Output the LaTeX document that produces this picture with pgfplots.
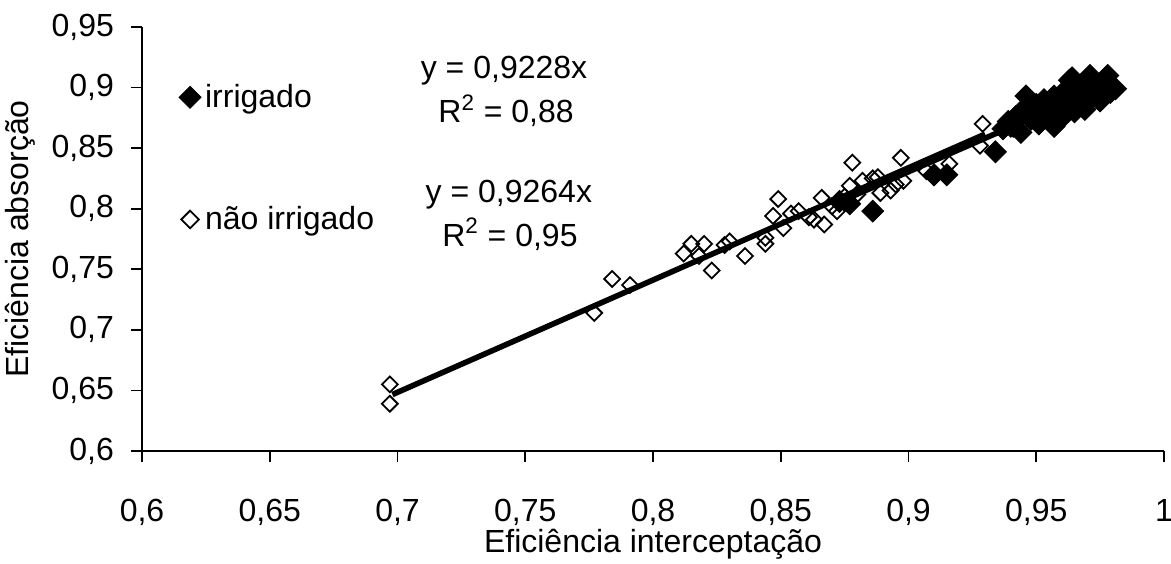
\documentclass[border=0pt]{standalone}
\usepackage{fontspec}
\setmainfont{Liberation Sans}
\usepackage{pgfplots}
\pgfplotsset{compat=1.18}

\newcommand{\bigf}{\fontsize{16}{19}\selectfont}
\pgfplotsset{
  legfilled/.style={legend image code/.code={\draw[##1] plot coordinates {(0.2cm,0cm)};}},
  legopen/.style={legend image code/.code={\draw[##1, mark size=3.1pt] plot coordinates {(0.2cm,0cm)};}},
}

\begin{document}
\begin{tikzpicture}
\begin{axis}[
  at={(71pt,56pt)}, anchor=south west,
  scale only axis, width=511pt, height=212pt,
  xmin=0.6, xmax=1, ymin=0.6, ymax=0.95,
  axis x line=bottom, axis y line=left,
  axis line style={-, line width=0.8pt},
  xtick={0.6,0.65,0.7,0.75,0.8,0.85,0.9,0.95,1},
  ytick={0.6,0.65,0.7,0.75,0.8,0.85,0.9,0.95},
  tick align=outside, major tick length=5.5pt,
  tick style={black, line width=0.8pt},
  scaled ticks=false,
  /pgf/number format/.cd, use comma, fixed, precision=2, assume math mode=true,
  /pgfplots/.cd,
  tick label style={font=\bigf},
  xticklabel shift=15pt,
  yticklabel style={xshift=-5pt},
  label style={font=\bigf},
  xlabel style={at={(axis description cs:0.5,0)}, anchor=center, yshift=-46.5pt},
  ylabel style={at={(axis description cs:-0.1194,0.5)}, anchor=center},
  xlabel={Eficiência interceptação},
  ylabel={Eficiência absorção},
  legend style={draw=none, fill=none, font=\bigf,
    at={(rel axis cs:0.03,0.885)}, anchor=north west,
    row sep=44pt, cells={anchor=west}},
]
% irrigado
\addplot[only marks, mark=square*, mark size=3.9pt,
  mark options={rotate=45, fill=black, draw=black, line width=0.4pt}, legfilled]
  coordinates {
  (0.873,0.806) (0.877,0.804) (0.886,0.798) (0.910,0.828) (0.915,0.828)
  (0.934,0.847) (0.937,0.866) (0.939,0.872) (0.941,0.868) (0.942,0.876)
  (0.944,0.863) (0.944,0.880) (0.946,0.893) (0.947,0.884) (0.948,0.874)
  (0.949,0.879) (0.950,0.886) (0.951,0.870) (0.952,0.881) (0.953,0.890)
  (0.954,0.876) (0.955,0.884) (0.957,0.868) (0.957,0.893) (0.958,0.880)
  (0.959,0.888) (0.960,0.875) (0.961,0.897) (0.962,0.884) (0.963,0.906)
  (0.964,0.890) (0.965,0.880) (0.966,0.900) (0.967,0.887) (0.968,0.895)
  (0.969,0.882) (0.970,0.903) (0.971,0.910) (0.972,0.892) (0.973,0.899)
  (0.975,0.889) (0.976,0.902) (0.978,0.910) (0.979,0.896) (0.981,0.899)
  (0.964,0.908) (0.958,0.872)
  };
\addlegendentry{irrigado}
% nao irrigado
\addplot[only marks, mark=square, mark size=2.8pt,
  mark options={rotate=45, draw=black, fill=white, line width=0.9pt}, legopen]
  coordinates {
  (0.697,0.655) (0.697,0.639) (0.777,0.714) (0.784,0.742) (0.791,0.737)
  (0.812,0.763) (0.815,0.771) (0.818,0.761) (0.820,0.771) (0.823,0.749)
  (0.830,0.773) (0.828,0.770) (0.836,0.761) (0.844,0.771) (0.844,0.776)
  (0.847,0.794) (0.849,0.808) (0.851,0.784) (0.854,0.796) (0.857,0.798)
  (0.861,0.793) (0.863,0.791) (0.866,0.809) (0.867,0.787) (0.870,0.802)
  (0.872,0.798) (0.875,0.810) (0.877,0.819) (0.878,0.838) (0.880,0.812)
  (0.882,0.823) (0.886,0.825) (0.888,0.826) (0.889,0.813) (0.893,0.815)
  (0.895,0.820) (0.897,0.842) (0.898,0.823) (0.907,0.831) (0.910,0.826)
  (0.916,0.837) (0.928,0.852) (0.929,0.870) (0.940,0.866) (0.945,0.872)
  };
\addlegendentry{não irrigado}
% linhas de tendencia
\addplot[forget plot, black, line width=2.8pt] coordinates {(0.698,0.6466) (0.930,0.8616)};
\addplot[forget plot, black, line width=2.8pt] coordinates {(0.873,0.8056) (0.978,0.9025)};
\node[font=\bigf] at (axis cs:0.7417,0.914) {y = 0,9228x};
\node[font=\bigf] at (axis cs:0.7425,0.881) {R\textsuperscript{2} = 0,88};
\node[font=\bigf] at (axis cs:0.7436,0.812) {y = 0,9264x};
\node[font=\bigf] at (axis cs:0.7440,0.779) {R\textsuperscript{2} = 0,95};
\end{axis}
\pgfresetboundingbox
\useasboundingbox (0,0) rectangle (585.5pt,281.5pt);
\end{tikzpicture}
\end{document}
